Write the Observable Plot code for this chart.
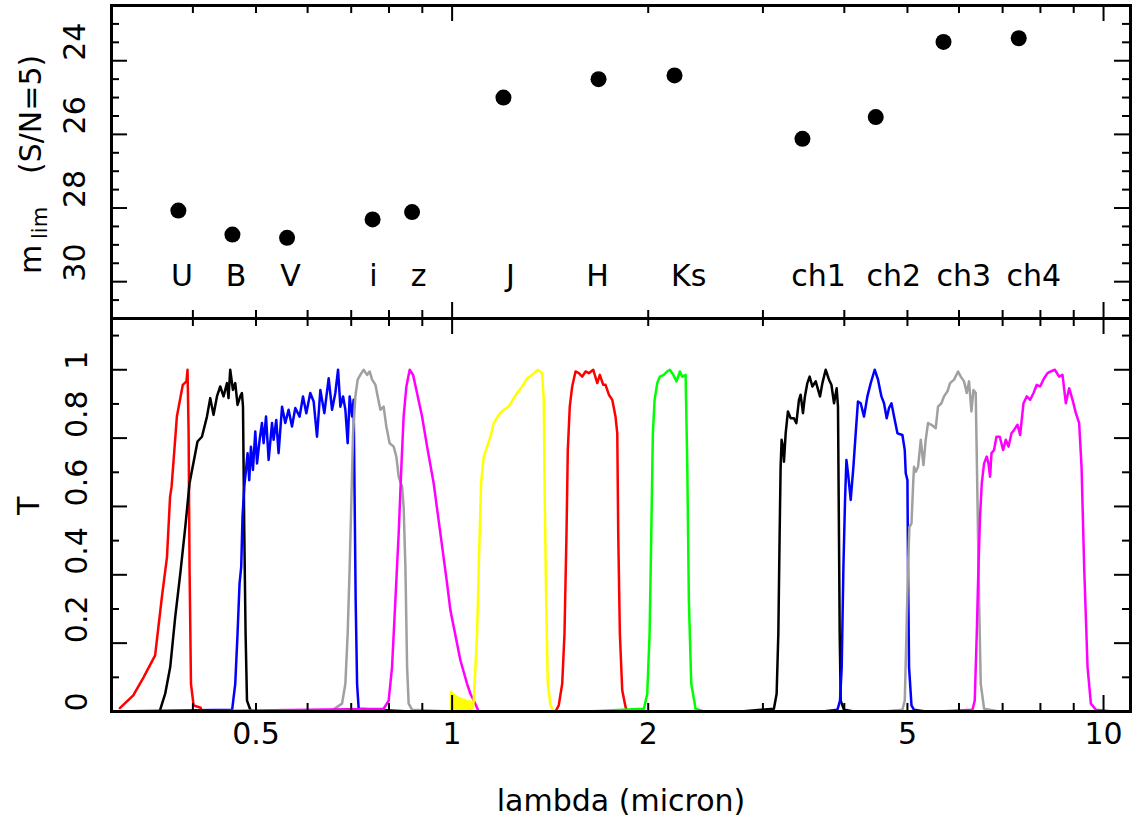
<!DOCTYPE html>
<html><head><meta charset="utf-8">
<script src="https://cdn.jsdelivr.net/npm/d3@7"></script>
<script src="https://cdn.jsdelivr.net/npm/@observablehq/plot@0.6"></script>
<style>
body{margin:0;background:#fff;}
#chart svg{display:block;overflow:visible;}
</style></head><body><div id="chart"></div>
<script>
// ---------- data ----------
const bands  = ["U","B","V","i","z","J","H","Ks","ch1","ch2","ch3","ch4"];
const lamEff = [0.380,0.460,0.558,0.755,0.868,1.199,1.678,2.195,3.45,4.47,5.68,7.41];
const mLim   = [28.07,28.72,28.81,28.31,28.11,25.0,24.5,24.4,26.12,25.53,23.49,23.39];
const labelLam = [0.385,0.466,0.565,0.757,0.888,1.229,1.672,2.308,3.653,4.764,6.10,7.817];
const labelMag = 29.87;

const xMajorTicks = [1,10];
const xMinorTicks = [0.4,0.5,0.6,0.7,0.8,0.9,2,3,4,5,6,7,8,9];
const xTickLabels = [0.5,1,2,5,10];
const magMajorTicks = [24,26,28,30];
const magMinorTicks = [23,23.5,24.5,25,25.5,26.5,27,27.5,28.5,29,29.5,30.5];
const tMajorTicks = [0.2,0.4,0.6,0.8,1.0];
const tMinorTicks = [0.1,0.3,0.5,0.7,0.9,1.1];
const tTickLabels = ["0","0.2","0.4","0.6","0.8","1"];

// transmission curves [lambda (micron), T]
const curveU = [[0.309,0.01],[0.324,0.047],[0.336,0.10],[0.350,0.164],[0.3585,0.335],[0.365,0.452],[0.369,0.628],[0.371,0.658],[0.378,0.863],[0.386,0.956],[0.391,0.966],[0.3925,1.0],[0.394,0.814],[0.3953,0.423],[0.3973,0.081],[0.401,0.018],[0.411,0.011],[0.413,0]];
const curveB = [[0.3563,0.005],[0.3627,0.052],[0.3692,0.13],[0.3758,0.277],[0.3826,0.404],[0.3894,0.54],[0.3953,0.668],[0.4034,0.756],[0.4066,0.79],[0.4130,0.804],[0.4204,0.863],[0.4253,0.917],[0.4303,0.868],[0.4355,0.922],[0.4406,0.951],[0.4458,0.922],[0.4512,0.961],[0.4537,0.917],[0.4564,1.0],[0.4608,0.941],[0.4646,0.961],[0.4684,0.897],[0.4729,0.922],[0.4757,0.932],[0.4775,0.892],[0.4797,0.521],[0.4819,0.228],[0.4843,0.032],[0.4900,0.005],[0.4957,0]];
const curveV = [[0.30,0],[0.4595,0.005],[0.4646,0.081],[0.4684,0.228],[0.4717,0.374],[0.4745,0.423],[0.4767,0.57],[0.4797,0.658],[0.4826,0.707],[0.4853,0.756],[0.4882,0.677],[0.4911,0.775],[0.4946,0.707],[0.4987,0.819],[0.5018,0.726],[0.5064,0.795],[0.5106,0.844],[0.5136,0.785],[0.5180,0.863],[0.5228,0.736],[0.5291,0.844],[0.5321,0.795],[0.5371,0.853],[0.5415,0.756],[0.5482,0.892],[0.5545,0.844],[0.5610,0.883],[0.5678,0.834],[0.5745,0.888],[0.5833,0.863],[0.5903,0.922],[0.5973,0.873],[0.6057,0.932],[0.6130,0.907],[0.6203,0.804],[0.6277,0.941],[0.6366,0.873],[0.6464,0.975],[0.6542,0.883],[0.6618,0.932],[0.6682,1.0],[0.6737,0.892],[0.6802,0.922],[0.6857,0.883],[0.6913,0.785],[0.6962,0.922],[0.7022,0.863],[0.7060,0.912],[0.7077,0.716],[0.7111,0.326],[0.7147,0.081],[0.7187,0.008],[0.8629,0]];
const curveI = [[0.6502,0],[0.6777,0.023],[0.6857,0.081],[0.6913,0.228],[0.6962,0.423],[0.7004,0.619],[0.7046,0.814],[0.7104,0.922],[0.7162,0.971],[0.7229,0.985],[0.7315,1.0],[0.7404,0.985],[0.7472,0.995],[0.7536,0.971],[0.7625,0.956],[0.7687,0.922],[0.7761,0.883],[0.7850,0.892],[0.7926,0.834],[0.8018,0.785],[0.8134,0.775],[0.8211,0.746],[0.8279,0.687],[0.8379,0.658],[0.8425,0.599],[0.8478,0.423],[0.8529,0.13],[0.8576,0.023],[0.8682,0.005],[0.994,0]];
const curveZ = [[0.3986,0],[0.7850,0.008],[0.7991,0.032],[0.8087,0.13],[0.8183,0.326],[0.8279,0.521],[0.8358,0.716],[0.8425,0.863],[0.8507,0.951],[0.8608,1.0],[0.8711,0.985],[0.8834,0.932],[0.8992,0.863],[0.9154,0.775],[0.9369,0.668],[0.9594,0.521],[0.9824,0.374],[0.9940,0.296],[1.0297,0.15],[1.0544,0.081],[1.0668,0.052],[1.0794,0.032],[1.0987,0]];
const curveJ = [[0.9955,0],[0.9965,0.058],[0.9985,0.005],[1.0000,0.055],[1.0020,0.01],[1.0040,0.05],[1.0065,0.0],[1.0085,0.048],[1.0110,0.008],[1.0130,0.045],[1.0160,0.0],[1.0185,0.042],[1.0215,0.005],[1.0240,0.04],[1.0270,0.0],[1.0300,0.038],[1.0330,0.005],[1.0360,0.035],[1.0395,0.0],[1.0425,0.035],[1.0460,0.005],[1.0490,0.032],[1.0525,0.0],[1.0560,0.03],[1.0600,0.005],[1.0640,0.03],[1.0680,0.0],[1.0720,0.028],[1.0760,0.01],[1.0794,0.032],[1.0925,0.228],[1.0987,0.423],[1.1079,0.668],[1.1183,0.746],[1.1319,0.775],[1.1451,0.804],[1.1585,0.844],[1.1791,0.868],[1.2002,0.883],[1.2216,0.892],[1.2434,0.917],[1.2584,0.932],[1.2808,0.951],[1.3037,0.975],[1.3270,0.985],[1.3536,1.0],[1.3747,0.99],[1.3826,0.912],[1.3874,0.619],[1.3944,0.326],[1.4025,0.081],[1.4158,0.018],[1.4326,0]];
const curveH = [[1.4411,0],[1.4578,0.018],[1.4757,0.081],[1.4877,0.228],[1.4983,0.521],[1.5052,0.765],[1.5157,0.892],[1.5287,0.951],[1.5468,0.995],[1.5651,0.99],[1.5840,0.98],[1.6027,0.995],[1.6213,0.99],[1.6469,1.0],[1.6703,0.961],[1.6857,0.985],[1.7061,0.956],[1.7200,0.956],[1.7403,0.927],[1.7613,0.912],[1.7817,0.863],[1.7928,0.814],[1.7989,0.521],[1.8093,0.228],[1.8245,0.062],[1.8460,0.013],[1.8571,0]];
const curveKs = [[1.6123,0],[1.9695,0.008],[1.9932,0.052],[2.0098,0.228],[2.0219,0.521],[2.0331,0.814],[2.0457,0.912],[2.0651,0.961],[2.0842,0.98],[2.1135,0.985],[2.1395,0.995],[2.1593,1.0],[2.1854,0.985],[2.2107,0.966],[2.2368,0.995],[2.2560,0.98],[2.2826,0.985],[2.2963,0.716],[2.3090,0.326],[2.3287,0.081],[2.3645,0.008],[2.4353,0]];
const curveCh1 = [[2.7745,0],[3.1189,0.008],[3.1491,0.052],[3.1680,0.228],[3.1827,0.521],[3.1937,0.716],[3.2049,0.795],[3.2196,0.775],[3.2317,0.731],[3.2511,0.814],[3.2774,0.878],[3.3093,0.858],[3.3476,0.858],[3.3762,0.844],[3.4075,0.912],[3.4277,0.927],[3.4563,0.873],[3.4803,0.922],[3.5101,0.961],[3.5386,0.98],[3.5730,0.951],[3.6152,0.966],[3.6706,0.922],[3.7021,0.961],[3.7450,1.0],[3.7892,0.971],[3.8217,0.956],[3.8571,0.902],[3.8937,0.946],[3.9117,0.892],[3.9216,0.619],[3.9352,0.228],[3.9497,0.032],[3.9955,0.005],[4.1395,0]];
const curveCh2 = [[3.7021,0],[3.9035,0.005],[3.9397,0.032],[3.9634,0.13],[3.9873,0.423],[4.0103,0.619],[4.0298,0.736],[4.0531,0.697],[4.0916,0.619],[4.1305,0.716],[4.1641,0.814],[4.1977,0.907],[4.2385,0.902],[4.2885,0.863],[4.3402,0.922],[4.3914,0.961],[4.4537,1.0],[4.5063,0.971],[4.5605,0.922],[4.6028,0.902],[4.6464,0.858],[4.6850,0.888],[4.7251,0.902],[4.7689,0.863],[4.8264,0.814],[4.9119,0.809],[4.9528,0.765],[4.9700,0.697],[4.9999,0.677],[5.0103,0.423],[5.0288,0.13],[5.0718,0.018],[5.1176,0.005],[5.3333,0]];
const curveCh3 = [[4.6028,0],[4.9119,0.005],[4.9528,0.032],[4.9826,0.228],[5.0103,0.423],[5.0350,0.54],[5.0718,0.55],[5.1000,0.658],[5.1176,0.716],[5.1495,0.702],[5.1912,0.716],[5.2415,0.795],[5.2912,0.721],[5.3333,0.795],[5.3777,0.844],[5.4424,0.839],[5.5260,0.829],[5.5708,0.892],[5.6379,0.902],[5.6902,0.922],[5.7600,0.937],[5.8133,0.961],[5.8954,0.971],[5.9800,0.995],[6.0368,0.98],[6.1081,0.966],[6.1660,0.932],[6.2159,0.966],[6.2691,0.878],[6.3140,0.941],[6.3651,0.932],[6.4048,0.619],[6.4404,0.326],[6.4791,0.081],[6.5557,0.008],[6.9120,0]];
const curveCh4 = [[5.5915,0],[6.2922,0.005],[6.3431,0.032],[6.3885,0.228],[6.4268,0.423],[6.4627,0.57],[6.5030,0.668],[6.5557,0.726],[6.6181,0.746],[6.6578,0.726],[6.6962,0.687],[6.7302,0.756],[6.7909,0.765],[6.8490,0.804],[6.9296,0.804],[7.0115,0.765],[7.0780,0.795],[7.1467,0.775],[7.2229,0.814],[7.2898,0.824],[7.3776,0.839],[7.4460,0.809],[7.5357,0.902],[7.6246,0.922],[7.7147,0.912],[7.8076,0.932],[7.8980,0.956],[7.9913,0.951],[8.1062,0.975],[8.2038,0.99],[8.2989,0.995],[8.4183,1.0],[8.5475,0.98],[8.6504,0.985],[8.7527,0.902],[8.8561,0.946],[8.9628,0.912],[9.0688,0.873],[9.1738,0.844],[9.2524,0.716],[9.3381,0.423],[9.4506,0.13],[9.5624,0.023],[9.7334,0.005],[10.3226,0]];

const curveNames  = ["U","B","V","i","z","J","H","Ks","ch1","ch2","ch3","ch4"];
const curveColors = ["#ff0000","#000000","#0000ff","#a0a0a0","#ff00ff","#ffff00","#ff0000","#00ff00","#000000","#0000ff","#a0a0a0","#ff00ff"];
const curves = [curveU,curveB,curveV,curveI,curveZ,curveJ,curveH,curveKs,curveCh1,curveCh2,curveCh3,curveCh4];

// ---------- layout ----------
const W = 1133, ML = 111, MR = 3;
const FW = W - ML - MR;
const H1 = 318, MT1 = 5;           // top panel frame 5..318
const H2 = 515, MB2 = 122;         // bottom panel frame 318..711
const FH1 = H1 - MT1, FH2 = H2 - MB2;
const FONT = "DejaVu Sans, sans-serif";
const FS = 30;
const minorLen = 8, majorLen = 16;
const tickStyle = {stroke: "black", strokeWidth: 2};

function xTicks(vals, len, fh) {
  return [
    Plot.tickX(vals, {x: d => d, insetTop: fh - len, ...tickStyle}),
    Plot.tickX(vals, {x: d => d, insetBottom: fh - len, ...tickStyle})
  ];
}
function yTicks(vals, len) {
  return [
    Plot.tickY(vals, {y: d => d, insetRight: FW - len, ...tickStyle}),
    Plot.tickY(vals, {y: d => d, insetLeft: FW - len, ...tickStyle})
  ];
}

const points = bands.map((b, i) => ({band: b, lam: lamEff[i], mag: mLim[i]}));
const labels = bands.map((b, i) => ({band: b, lam: labelLam[i], mag: labelMag}));

const topPlot = Plot.plot({
  width: W, height: H1, marginTop: MT1, marginBottom: 0, marginLeft: ML, marginRight: MR,
  style: {fontFamily: FONT, overflow: "visible", background: "white"},
  x: {type: "log", domain: [0.3, 11], axis: null},
  y: {domain: [31, 22.5], axis: null},
  marks: [
    ...xTicks(xMinorTicks, minorLen, FH1),
    ...xTicks(xMajorTicks, majorLen, FH1),
    ...yTicks(magMinorTicks, minorLen),
    ...yTicks(magMajorTicks, majorLen),
    Plot.text(magMajorTicks, {y: d => d, text: d => String(d), frameAnchor: "left", dx: -36, rotate: -90, fontSize: FS}),
    Plot.text(["m"], {frameAnchor: "left", dx: -80, dy: 112, rotate: -90, textAnchor: "start", fontSize: FS}),
    Plot.text(["lim"], {frameAnchor: "left", dx: -71, dy: 77, rotate: -90, textAnchor: "start", fontSize: 21}),
    Plot.text(["(S/N=5)"], {frameAnchor: "left", dx: -80, dy: 12, rotate: -90, textAnchor: "start", fontSize: FS}),
    Plot.dot(points, {x: "lam", y: "mag", r: 8, fill: "black", stroke: null}),
    Plot.text(labels, {x: "lam", y: "mag", text: "band", fontSize: FS}),
    Plot.frame({stroke: "black", strokeWidth: 3})
  ]
});

const bottomPlot = Plot.plot({
  width: W, height: H2, marginTop: 0, marginBottom: MB2, marginLeft: ML, marginRight: MR,
  style: {fontFamily: FONT, overflow: "visible", background: "white"},
  x: {type: "log", domain: [0.3, 11], axis: null},
  y: {domain: [0, 1.15], axis: null},
  marks: [
    ...curves.map((c, i) => Plot.line(c, {x: d => d[0], y: d => d[1], stroke: curveColors[i], strokeWidth: 2.5, strokeLinejoin: "round"})),
    ...xTicks(xMinorTicks, minorLen, FH2),
    ...xTicks(xMajorTicks, majorLen, FH2),
    ...yTicks(tMinorTicks, minorLen),
    ...yTicks(tMajorTicks, majorLen),
    Plot.text(tTickLabels, {y: d => +d, text: d => d, frameAnchor: "left", dx: -34, rotate: -90, fontSize: FS}),
    Plot.text(["T"], {frameAnchor: "left", dx: -82, rotate: -90, fontSize: FS}),
    Plot.text(xTickLabels, {x: d => d, text: d => String(d), frameAnchor: "bottom", dy: 32, fontSize: FS}),
    Plot.text(["lambda (micron)"], {frameAnchor: "bottom", dy: 99, fontSize: FS}),
    Plot.frame({stroke: "black", strokeWidth: 3})
  ]
});

const root = document.getElementById("chart");
root.appendChild(topPlot);
root.appendChild(bottomPlot);
</script></body></html>
